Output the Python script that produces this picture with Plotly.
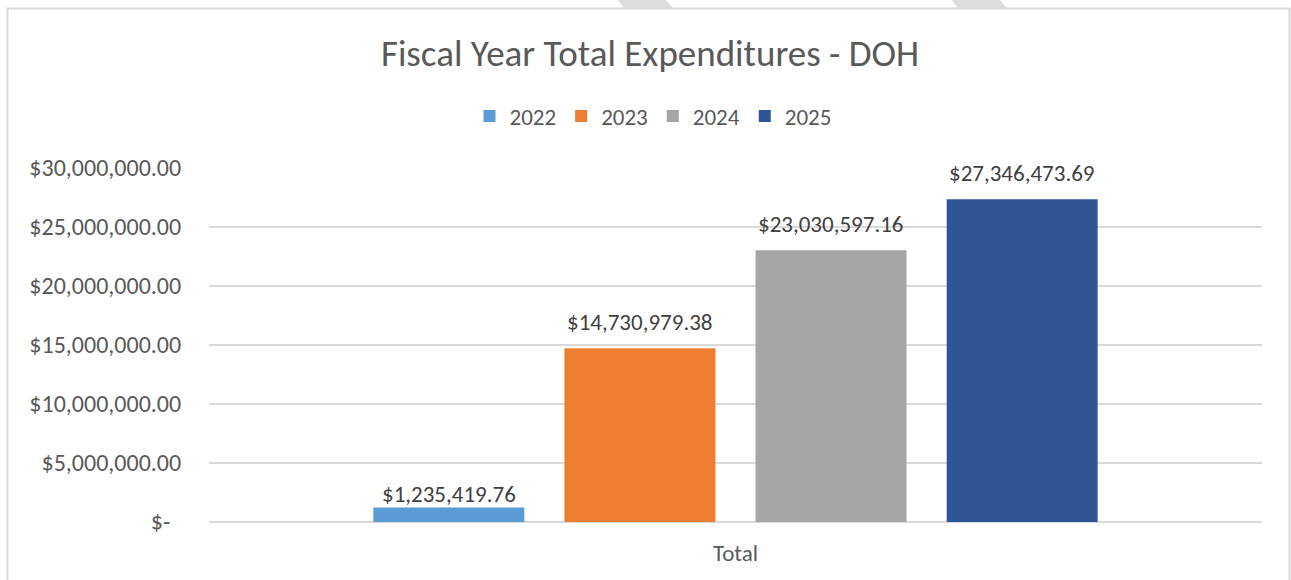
import plotly.graph_objects as go

# Fiscal year expenditure totals
years = ["2022", "2023", "2024", "2025"]
totals = [1235419.76, 14730979.38, 23030597.16, 27346473.69]
bar_colors = ["#5B9BD5", "#ED7D31", "#A5A5A5", "#2F5597"]
category = ["Total"]

# value axis ticks
tick_values = [0, 5e6, 10e6, 15e6, 20e6, 25e6, 30e6]
tick_labels = ["$-\u00a0\u00a0", "$5,000,000.00", "$10,000,000.00", "$15,000,000.00",
               "$20,000,000.00", "$25,000,000.00", "$30,000,000.00"]

FONT = "Calibri, Carlito, Lato, sans-serif"

W, H = 1291, 580
L, R, T, B = 209, 29, 168, 58
pw, ph = W - L - R, H - T - B

BARGAP = 0.274
BARGROUPGAP = 0.21
# pixel lift of each value label above its bar
LABEL_LIFT = [-3, 10, 10, 10]


def px_x(p):
    return (p - L) / pw


def px_y(p):
    return (H - B - p) / ph


fig = go.Figure()
for yr, val, col in zip(years, totals, bar_colors):
    fig.add_trace(go.Bar(
        name=yr, x=category, y=[val], marker_color=col, marker_line_width=0,
    ))

# value labels above each bar (bar centres follow the group layout)
n = len(years)
slot = (1 - BARGAP) / n
annotations = []
for i, val in enumerate(totals):
    annotations.append(dict(
        x=-(1 - BARGAP) / 2 + (i + 0.5) * slot, y=val, xref="x", yref="y",
        text=f"${val:,.2f}", showarrow=False, yanchor="bottom", yshift=LABEL_LIFT[i],
        font=dict(family=FONT, size=23, color="#404040"),
    ))

# chart frame and the grey stripes above it
shapes = [
    dict(type="rect", xref="paper", yref="paper",
         x0=px_x(7.5), x1=px_x(1289.5), y0=px_y(600), y1=px_y(8.5),
         line=dict(color="#D9D9D9", width=2), fillcolor="rgba(0,0,0,0)", layer="below"),
    dict(type="path", xref="paper", yref="paper",
         path=f"M {px_x(617)} {px_y(-1)} L {px_x(665)} {px_y(-1)} L {px_x(673)} {px_y(8)} L {px_x(624)} {px_y(8)} Z",
         fillcolor="#DCDCDC", line_width=0),
    dict(type="path", xref="paper", yref="paper",
         path=f"M {px_x(951)} {px_y(-1)} L {px_x(999)} {px_y(-1)} L {px_x(1007)} {px_y(8)} L {px_x(958)} {px_y(8)} Z",
         fillcolor="#DCDCDC", line_width=0),
]

fig.update_layout(
    width=W, height=H,
    margin=dict(l=L, r=R, t=T, b=B, autoexpand=False),
    paper_bgcolor="white", plot_bgcolor="white",
    barmode="group", bargap=BARGAP, bargroupgap=BARGROUPGAP,
    title=dict(text="Fiscal Year Total Expenditures - DOH",
               xref="container", x=650 / W, xanchor="center",
               yref="container", y=1 - 53 / H, yanchor="middle",
               font=dict(family=FONT, size=37, color="#595959")),
    legend=dict(orientation="h", xref="container", x=653 / W, xanchor="center",
                yref="container", y=1 - 116 / H, yanchor="middle",
                font=dict(family=FONT, size=23, color="#595959"),
                itemwidth=30, traceorder="normal", bgcolor="rgba(0,0,0,0)"),
    xaxis=dict(range=[-0.5, 0.5], showgrid=False, showline=False, ticks="outside",
               ticklen=0, ticklabelstandoff=10,
               tickfont=dict(family=FONT, size=23, color="#595959")),
    yaxis=dict(range=[0, 30e6], tickvals=tick_values, ticktext=tick_labels,
               showgrid=True, gridcolor="#D9D9D9", gridwidth=1.5,
               zeroline=True, zerolinecolor="#D9D9D9", zerolinewidth=1.5,
               showline=False, ticks="outside", ticklen=0, ticklabelstandoff=22,
               tickfont=dict(family=FONT, size=24, color="#595959")),
    shapes=shapes,
    annotations=annotations,
    showlegend=True,
)

fig.write_html("out.html")
